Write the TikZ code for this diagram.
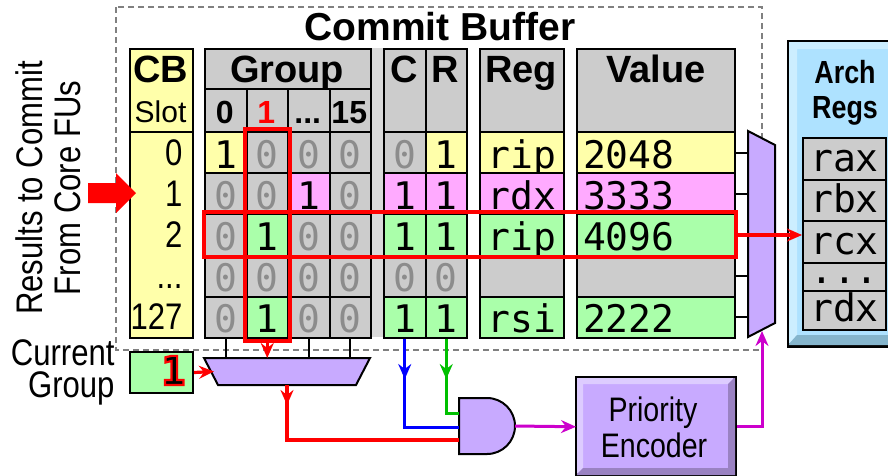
\documentclass[tikz,border=0pt]{standalone}
\usepackage{fontspec}
\setmainfont{Liberation Sans}
\newfontfamily\narrowsf[FakeStretch=0.84]{Liberation Sans}
\newfontfamily\monofam{DejaVu Sans Mono}
\usetikzlibrary{arrows.meta,decorations.markings}

\definecolor{cbyellow}{HTML}{FFFFAA}
\definecolor{cbpink}{HTML}{FFAAFF}
\definecolor{cbgreen}{HTML}{AAFFAA}
\definecolor{cbgray}{HTML}{CCCCCC}
\definecolor{stripgray}{HTML}{D9D9D9}
\definecolor{zerogray}{HTML}{8C8C8C}
\definecolor{muxpurple}{HTML}{C8AAFF}
\definecolor{pelight}{HTML}{DDCCFF}
\definecolor{pedark}{HTML}{9A82C2}
\definecolor{archfill}{HTML}{AEE2FF}
\definecolor{archlight}{HTML}{CCEEFF}
\definecolor{archdark}{HTML}{85B5CC}
\definecolor{wiremag}{HTML}{CC00CC}
\definecolor{wiregreen}{HTML}{00C000}
\definecolor{dashgray}{HTML}{808080}

\tikzset{
  hdrfont/.style={font=\bfseries\fontsize{38}{40}\selectfont},
  subfont/.style={font=\bfseries\fontsize{32}{36}\selectfont},
  rowfont/.style={font=\narrowsf\fontsize{37}{40}\selectfont},
  pefont/.style={font=\narrowsf\fontsize{34}{36}\selectfont},
  framebox/.style={draw=black, line width=2pt, inner sep=0pt, anchor=north west},
  cellbox/.style={framebox, minimum height=41.2pt, text height=31pt, text depth=0pt,
    font=\monofam\fontsize{38}{40}\selectfont},
  archcell/.style={framebox, fill=cbgray, minimum width=83pt, text depth=0pt,
    font=\monofam\fontsize{38}{40}\selectfont},
  muxshape/.style={draw=black, line width=2pt, fill=muxpurple, line join=miter},
  stub/.style={draw=black, line width=2pt},
  hilite/.style={draw=red, line width=4pt},
  redwire/.style={draw=red, line width=3.2pt},
  bluewire/.style={draw=blue, line width=3pt},
  greenwire/.style={draw=wiregreen, line width=3pt},
  magwire/.style={draw=wiremag, line width=3pt},
  midarrow/.style={postaction={decorate},
    decoration={markings, mark=at position #1 with {\arrow{>}}}},
  cbframe/.style={draw=dashgray, line width=1.8pt, dash pattern=on 6pt off 4pt}
}

% three dots as a label (kept out of \foreach lists)
\newcommand\tdots{...}

% one bit of the commit buffer: grey 0 or coloured 1
\newcommand\bitcell[5]{%
  \ifnum#4=1\relax
    \node[cellbox, fill=#5, minimum width=41.5pt] (#1) at (#2,#3) {1};%
  \else
    \node[cellbox, fill=cbgray, text=zerogray, minimum width=41.5pt] (#1) at (#2,#3) {0};%
  \fi}

% glyphs filled in the current colour and stroked in red
\newcommand\redrim[1]{%
  \special{pdf:literal direct 1 0 0 RG 2.2 w 2 Tr}#1\special{pdf:literal direct 0 Tr 0 0 0 RG}}

\begin{document}
\begin{tikzpicture}[x=1pt, y=-1pt, >={Stealth[length=15pt,width=13pt,inset=5pt]}]
\clip (0,0) rectangle (888,475);
\fill[white] (0,0) rectangle (888,475);

% dashed outline of the commit buffer
\draw[cbframe] (116,7) rectangle (762,350);
\node[font=\bfseries\fontsize{39}{40}\selectfont, anchor=base] (cbtitle) at (440,40) {Commit Buffer};

% grey strip between the group bits and the C/R bits
\fill[stripgray] (370,48) rectangle (383,337);

% slot column
\node[framebox, fill=cbyellow, minimum width=63pt, minimum height=83pt] (cbhead) at (129,48) {};
\node[framebox, fill=cbyellow, minimum width=63pt, minimum height=206pt] (cbbody) at (129,131) {};
\node[hdrfont, anchor=base] (cbname) at (160.5,82) {CB};
\node[font=\fontsize{30}{32}\selectfont, anchor=base] (cbslot) at (160.5,122) {Slot};
\foreach \i/\lbl in {0/0,1/1,2/2,3/\tdots,4/127}
  \node[rowfont, anchor=base east] (slot-\i) at (186,{165+41.2*\i}) {\lbl};

% group bits header
\node[framebox, fill=cbgray, minimum width=166pt, minimum height=40pt] (grphead) at (204,48) {};
\node[hdrfont, anchor=base] (grpname) at (287,82) {Group};
\foreach \j/\lbl/\col in {0/0/black,1/1/red,2/\tdots/black,3/15/black}{
  \node[framebox, fill=cbgray, minimum width=41.5pt, minimum height=43pt] (gsub-\j) at ({204+41.5*\j},88) {};
  \node[subfont, text=\col, anchor=base] (gsubl-\j) at ({224.75+41.5*\j},123) {\lbl};
}

% C, R, Reg and Value headers
\node[framebox, fill=cbgray, minimum width=41.5pt, minimum height=83pt] (chead) at (383,48) {};
\node[framebox, fill=cbgray, minimum width=41.5pt, minimum height=83pt] (rhead) at (424.5,48) {};
\node[framebox, fill=cbgray, minimum width=84pt, minimum height=83pt] (reghead) at (479,48) {};
\node[framebox, fill=cbgray, minimum width=158pt, minimum height=83pt] (valhead) at (576,48) {};
\node[hdrfont, anchor=base] (cname) at (403.75,82) {C};
\node[hdrfont, anchor=base] (rname) at (445.25,82) {R};
\node[hdrfont, anchor=base] (regname) at (521,82) {Reg};
\node[hdrfont, anchor=base] (valname) at (656,82) {Value};

% buffer entries
\foreach \rw/\rc/\ga/\gb/\gc/\gd/\cbit/\rbit/\reg/\val in {
    0/cbyellow/1/0/0/0/0/1/rip/2048,
    1/cbpink/0/0/1/0/1/1/rdx/3333,
    2/cbgreen/0/1/0/0/1/1/rip/4096,
    3/cbgray/0/0/0/0/0/0/{}/{},
    4/cbgreen/0/1/0/0/1/1/rsi/2222}{
  \pgfmathsetmacro\ry{131+41.2*\rw}
  \bitcell{g-\rw-0}{204}{\ry}{\ga}{\rc}
  \bitcell{g-\rw-1}{245.5}{\ry}{\gb}{\rc}
  \bitcell{g-\rw-2}{287}{\ry}{\gc}{\rc}
  \bitcell{g-\rw-3}{328.5}{\ry}{\gd}{\rc}
  \bitcell{c-\rw}{383}{\ry}{\cbit}{\rc}
  \bitcell{r-\rw}{424.5}{\ry}{\rbit}{\rc}
  \node[cellbox, fill=\rc, minimum width=84pt] (reg-\rw) at (479,\ry) {\reg};
  \node[cellbox, fill=\rc, text width=146pt, inner xsep=6pt, align=left] (val-\rw) at (576,\ry) {\val};
}

% output multiplexer of the value column
\coordinate (vm1) at (748,131);
\coordinate (vm2) at (775,145);
\coordinate (vm3) at (775,323);
\coordinate (vm4) at (748,337);
\coordinate (vmin) at (762,331);
\draw[muxshape] (vm1) -- (vm2) -- (vm3) -- (vm4) -- cycle;
\foreach \k in {0,1,3,4}
  \draw[stub] (val-\k.east) -- (val-\k.east -| vm1);

% group-select multiplexer
\coordinate (gm1) at (204,358);
\coordinate (gm2) at (370,358);
\coordinate (gm3) at (356,385);
\coordinate (gm4) at (218,385);
\coordinate (gmin) at (214,371.5);
\coordinate (gmout) at (287,385);
\draw[muxshape] (gm1) -- (gm2) -- (gm3) -- (gm4) -- cycle;
\foreach \k in {0,2,3}
  \draw[stub] (g-4-\k.south) -- (g-4-\k.south |- gm1);

% current group register
\node[framebox, fill=cbgreen, minimum width=63pt, minimum height=41pt] (cg) at (129,351) {};
\node[font=\monofam\bfseries\fontsize{40}{40}\selectfont, anchor=base east] (cgval) at (189,385) {\redrim{1}};
\node[rowfont, anchor=base east] (cglab1) at (118,365) {Current};
\node[rowfont, anchor=base east] (cglab2) at (118,397) {Group};

% incoming results
\node[rowfont, rotate=90, anchor=base] (inlab1) at (42,188) {Results to Commit};
\node[rowfont, rotate=90, anchor=base] (inlab2) at (80,188) {From Core FUs};
\fill[red] (88,183) -- (116,183) -- (116,173) -- (136,193) -- (116,213) -- (116,203) -- (88,203) -- cycle;

% AND gate
\coordinate (and1) at (459,413);
\coordinate (and2) at (459,427);
\coordinate (and3) at (459,440);
\coordinate (andout) at (515,426);
\draw[muxshape] (459,398) -- (487,398) arc[start angle=90, end angle=-90, radius=28pt] -- (459,454) -- cycle;

% priority encoder
\node[framebox, fill=muxpurple, line width=1.5pt, minimum width=159pt, minimum height=98pt] (pe) at (576,377) {};
\fill[pelight] (576,377) -- (735,377) -- (728,384) -- (583,384) -- (583,468) -- (576,475) -- cycle;
\fill[pedark] (735,377) -- (735,475) -- (576,475) -- (583,468) -- (728,468) -- (728,384) -- cycle;
\draw[line width=1.5pt] (pe.north west) rectangle (pe.south east);
\node[pefont, anchor=base] (pelab1) at (653,421) {Priority};
\node[pefont, anchor=base] (pelab2) at (654,457) {Encoder};

% architectural register file
\node[framebox, fill=archfill, minimum width=120pt, minimum height=304pt] (arch) at (788,41) {};
\fill[archlight] (788,41) -- (908,41) -- (900,49) -- (797,49) -- (797,335) -- (788,345) -- cycle;
\fill[archdark] (788,345) -- (797,335) -- (900,335) -- (908,345) -- cycle;
\draw[line width=2pt] (arch.north west) rectangle (arch.south east);
\node[font=\narrowsf\bfseries\fontsize{32}{36}\selectfont, anchor=base] (archlab1) at (845,83) {Arch};
\node[font=\narrowsf\bfseries\fontsize{32}{36}\selectfont, anchor=base] (archlab2) at (845,118) {Regs};
\foreach \k/\nm/\ty/\h/\th in {0/rax/137/42/24, 1/rbx/179/41/23, 2/rcx/220/42/24, 3/\tdots/262/28/12, 4/rdx/290/39/22}
  \node[archcell, minimum height=\h pt, text height=\th pt] (areg-\k) at (802,\ty) {\nm};

% highlighted group column and selected entry
\draw[hilite] ([shift={(-0.5pt,2pt)}]g-0-1.north west) rectangle ([shift={(1pt,-2pt)}]g-4-1.south east);
\draw[hilite] ([shift={(0pt,1pt)}]g-2-0.north west) rectangle (val-2.south east);

% wires
\draw[redwire, ->] (val-2.east) -- (val-2.east -| areg-2.west);
\draw[redwire, ->] (g-4-1.south) -- (g-4-1.south |- gm1);
\draw[redwire, ->] (cg.east) -- (gmin);
\draw[redwire, midarrow=20pt] (gmout) |- (and3);
\draw[bluewire, midarrow=40pt] (c-4.south) |- (and2);
\draw[greenwire, midarrow=40pt] (r-4.south) |- (and1);
\draw[magwire, ->] (andout) -- (pe.west);
\draw[magwire, ->] (pe.east) -| (vmin);
\end{tikzpicture}
\end{document}
